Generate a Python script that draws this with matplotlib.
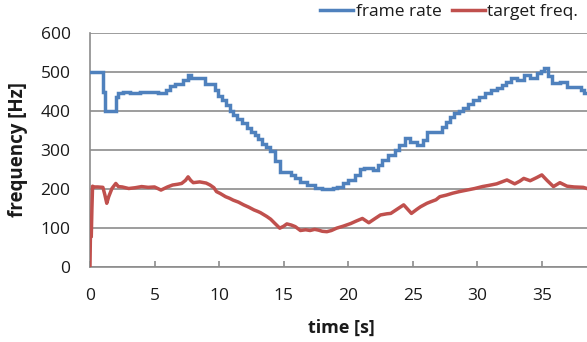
"""
Frame rate vs. target frequency over time (step-style Excel look).
"""

import matplotlib
import matplotlib.pyplot as plt
from matplotlib.lines import Line2D

matplotlib.use("Agg")

# frame rate (drawn as steps)
frame_t = [0, 1.0, 1.2, 2.0, 2.2, 2.55, 3.1, 3.9, 5.3, 5.9, 6.2, 6.6, 7.2, 7.6, 7.8,
           8.9, 9.7, 9.95, 10.2, 10.5, 10.85, 11.1, 11.4, 11.8, 12.2, 12.5, 12.8, 13.0,
           13.3, 13.6, 13.95, 14.3, 14.7, 15.6, 15.9, 16.3, 16.8, 17.4, 18.0, 18.8,
           19.1, 19.6, 20.0, 20.5, 20.9, 21.2, 21.9, 22.3, 22.6, 23.1, 23.6, 23.9,
           24.4, 24.8, 25.3, 25.8, 26.1, 27.3, 27.6, 27.9, 28.2, 28.6, 28.9, 29.3,
           29.7, 30.1, 30.6, 31.1, 31.5, 31.9, 32.2, 32.6, 33.1, 33.6, 34.1, 34.6,
           34.9, 35.2, 35.5, 35.8, 36.4, 36.95, 38.0, 38.3, 38.6]
frame_rate = [500, 448, 401, 437, 446, 450, 446, 450, 446, 455, 465, 470, 480, 493, 484,
              470, 455, 440, 428, 415, 400, 390, 380, 370, 357, 347, 338, 328,
              315, 307, 298, 272, 244, 235, 228, 219, 210, 202, 200, 203,
              206, 214, 223, 236, 250, 254, 249, 262, 274, 287, 300, 313,
              330, 321, 313, 326, 347, 360, 373, 385, 394, 400, 407, 418,
              429, 437, 446, 454, 460, 467, 476, 484, 480, 493, 484, 497,
              503, 510, 490, 472, 476, 463, 455, 446, 446]

# target frequency
target_t = [0, 0.05, 0.1, 0.15, 0.2, 0.3, 0.6, 1.0, 1.15, 1.3, 1.45, 1.7, 2.0, 2.2,
            2.5, 3.0, 3.5, 4.0, 4.5, 5.0, 5.5, 6.0, 6.4, 6.8, 7.1, 7.4, 7.6, 7.8, 8.0,
            8.5, 9.0, 9.3, 9.6, 9.8, 10.1, 10.5, 10.8, 11.1, 11.5, 11.9, 12.3, 12.7,
            13.0, 13.2, 13.5, 13.7, 14.0, 14.3, 14.7, 15.0, 15.25, 15.6, 15.9, 16.3,
            16.7, 17.05, 17.4, 17.7, 18.0, 18.35, 18.7, 19.1, 19.6, 20.2, 20.6, 21.1,
            21.6, 22.0, 22.5, 23.0, 23.3, 23.8, 24.3, 24.9, 25.3, 25.6, 26.1, 26.4,
            26.8, 27.1, 27.6, 28.1, 28.6, 29.2, 29.8, 30.4, 30.9, 31.5, 31.9, 32.3,
            32.9, 33.3, 33.6, 34.1, 34.6, 35.0, 35.4, 35.9, 36.4, 36.95, 37.5, 38.2,
            38.6]
target_freq = [0, 120, 77, 150, 207, 205, 205, 204, 185, 163, 180, 201, 214, 206,
               205, 201, 203, 206, 204, 205, 197, 205, 210, 212, 214, 222, 231, 222, 216,
               218, 215, 210, 203, 193, 188, 180, 176, 171, 166, 159, 153, 146,
               142, 139, 133, 129, 122, 112, 99, 104, 110, 107, 103, 93,
               95, 93, 96, 94, 91, 90, 93, 99, 104, 111, 117, 124,
               113, 122, 133, 136, 137, 148, 159, 137, 147, 154, 163, 167,
               172, 180, 184, 189, 193, 197, 201, 206, 209, 213, 218, 223,
               213, 220, 227, 221, 229, 236, 222, 206, 216, 207, 205, 204,
               200]

x_ticks = [0, 5, 10, 15, 20, 25, 30, 35]
y_ticks = [0, 100, 200, 300, 400, 500, 600]

BLUE = "#4F81BD"
RED = "#C0504D"
GRID = "#8c8c8c"
TEXT = "#1a1a1a"

plt.rcParams["font.family"] = ["Open Sans", "DejaVu Sans"]

fig = plt.figure(figsize=(5.87, 3.42), dpi=100)
ax = fig.add_axes([0.1533, 0.2202, 0.8467, 0.6824])

ax.plot(frame_t, frame_rate, color=BLUE, lw=2.5, drawstyle="steps-post",
        solid_joinstyle="miter", zorder=3)
ax.plot(target_t, target_freq, color=RED, lw=2.5, zorder=3)

ax.set_xlim(0, 38.5)
ax.set_ylim(0, 600)
ax.set_xticks(x_ticks)
ax.set_yticks(y_ticks)

ax.grid(axis="y", color=GRID, lw=1.2)
ax.set_axisbelow(True)

for side in ["top", "right"]:
    ax.spines[side].set_visible(False)
for side in ["left", "bottom"]:
    ax.spines[side].set_color(GRID)
    ax.spines[side].set_linewidth(1.2)

ax.tick_params(axis="x", direction="in", length=4.5, width=1.2, color=GRID,
               labelsize=12.5, labelcolor=TEXT, pad=15)
ax.tick_params(axis="y", length=0, labelsize=12.5, labelcolor=TEXT, pad=14)

ax.set_xlabel("time [s]", fontsize=13, fontweight="bold", color=TEXT, va="center")
ax.set_ylabel("frequency [Hz]", fontsize=13.5, fontweight="bold", color=TEXT)
ax.xaxis.set_label_coords(0.506, -0.263)
ax.yaxis.set_label_coords(-0.124, 0.5)

handles = [Line2D([], [], color=BLUE, lw=2.5), Line2D([], [], color=RED, lw=2.5)]
fig.legend(handles, ["frame rate", "target freq."], loc="center left",
           bbox_to_anchor=(0.545, 0.965), ncol=2, frameon=False, fontsize=12.5,
           handlelength=1.9, handletextpad=0.15, columnspacing=0.6,
           borderpad=0, borderaxespad=0, labelcolor=TEXT)

plt.savefig("out.png", dpi=100)
plt.close()
